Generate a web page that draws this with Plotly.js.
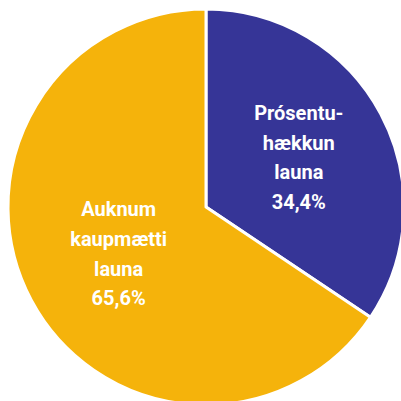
<!DOCTYPE html>
<html>
<head>
<meta charset="utf-8">
<script src="https://cdn.plot.ly/plotly-3.0.1.min.js"></script>
<style>
  html, body { margin: 0; padding: 0; overflow: hidden; background: #fff; }
  #chart { width: 420px; height: 420px; }
</style>
</head>
<body>
<div id="chart"></div>
<script>
// share of wage change (%)
const labels = ["Prósentu-<br>hækkun<br>launa", "Auknum<br>kaupmætti<br>launa"];
const values = [34.4, 65.6];
const valueText = ["34,4%", "65,6%"];
const colors = ["#363597", "#F5B30B"];

// each line in a smaller span so the line gap follows the bigger text size
const lineText = labels.map((l, i) =>
    (l + "<br>" + valueText[i]).split("<br>")
        .map(s => `<span style="font-size:20px">${s}</span>`).join("<br>"));

const W = 420, H = 420;

Plotly.newPlot("chart", [{
    type: "pie",
    labels: labels,
    values: values,
    text: lineText,
    textinfo: "text",
    textposition: "inside",
    insidetextorientation: "horizontal",
    sort: false,
    direction: "clockwise",
    rotation: 0,
    marker: { colors: colors, line: { color: "#ffffff", width: 3 } },
    textfont: { family: "Roboto, Liberation Sans, Arial", size: 23, color: "#ffffff", weight: "bold" },
    hoverinfo: "none",
    domain: { x: [8 / W, 404 / W], y: [1 - 405 / H, 1 - 9 / H] }
}], {
    width: W,
    height: H,
    margin: { t: 0, b: 0, l: 0, r: 0 },
    showlegend: false,
    paper_bgcolor: "#ffffff"
}, { displayModeBar: false, staticPlot: true });
</script>
</body>
</html>
